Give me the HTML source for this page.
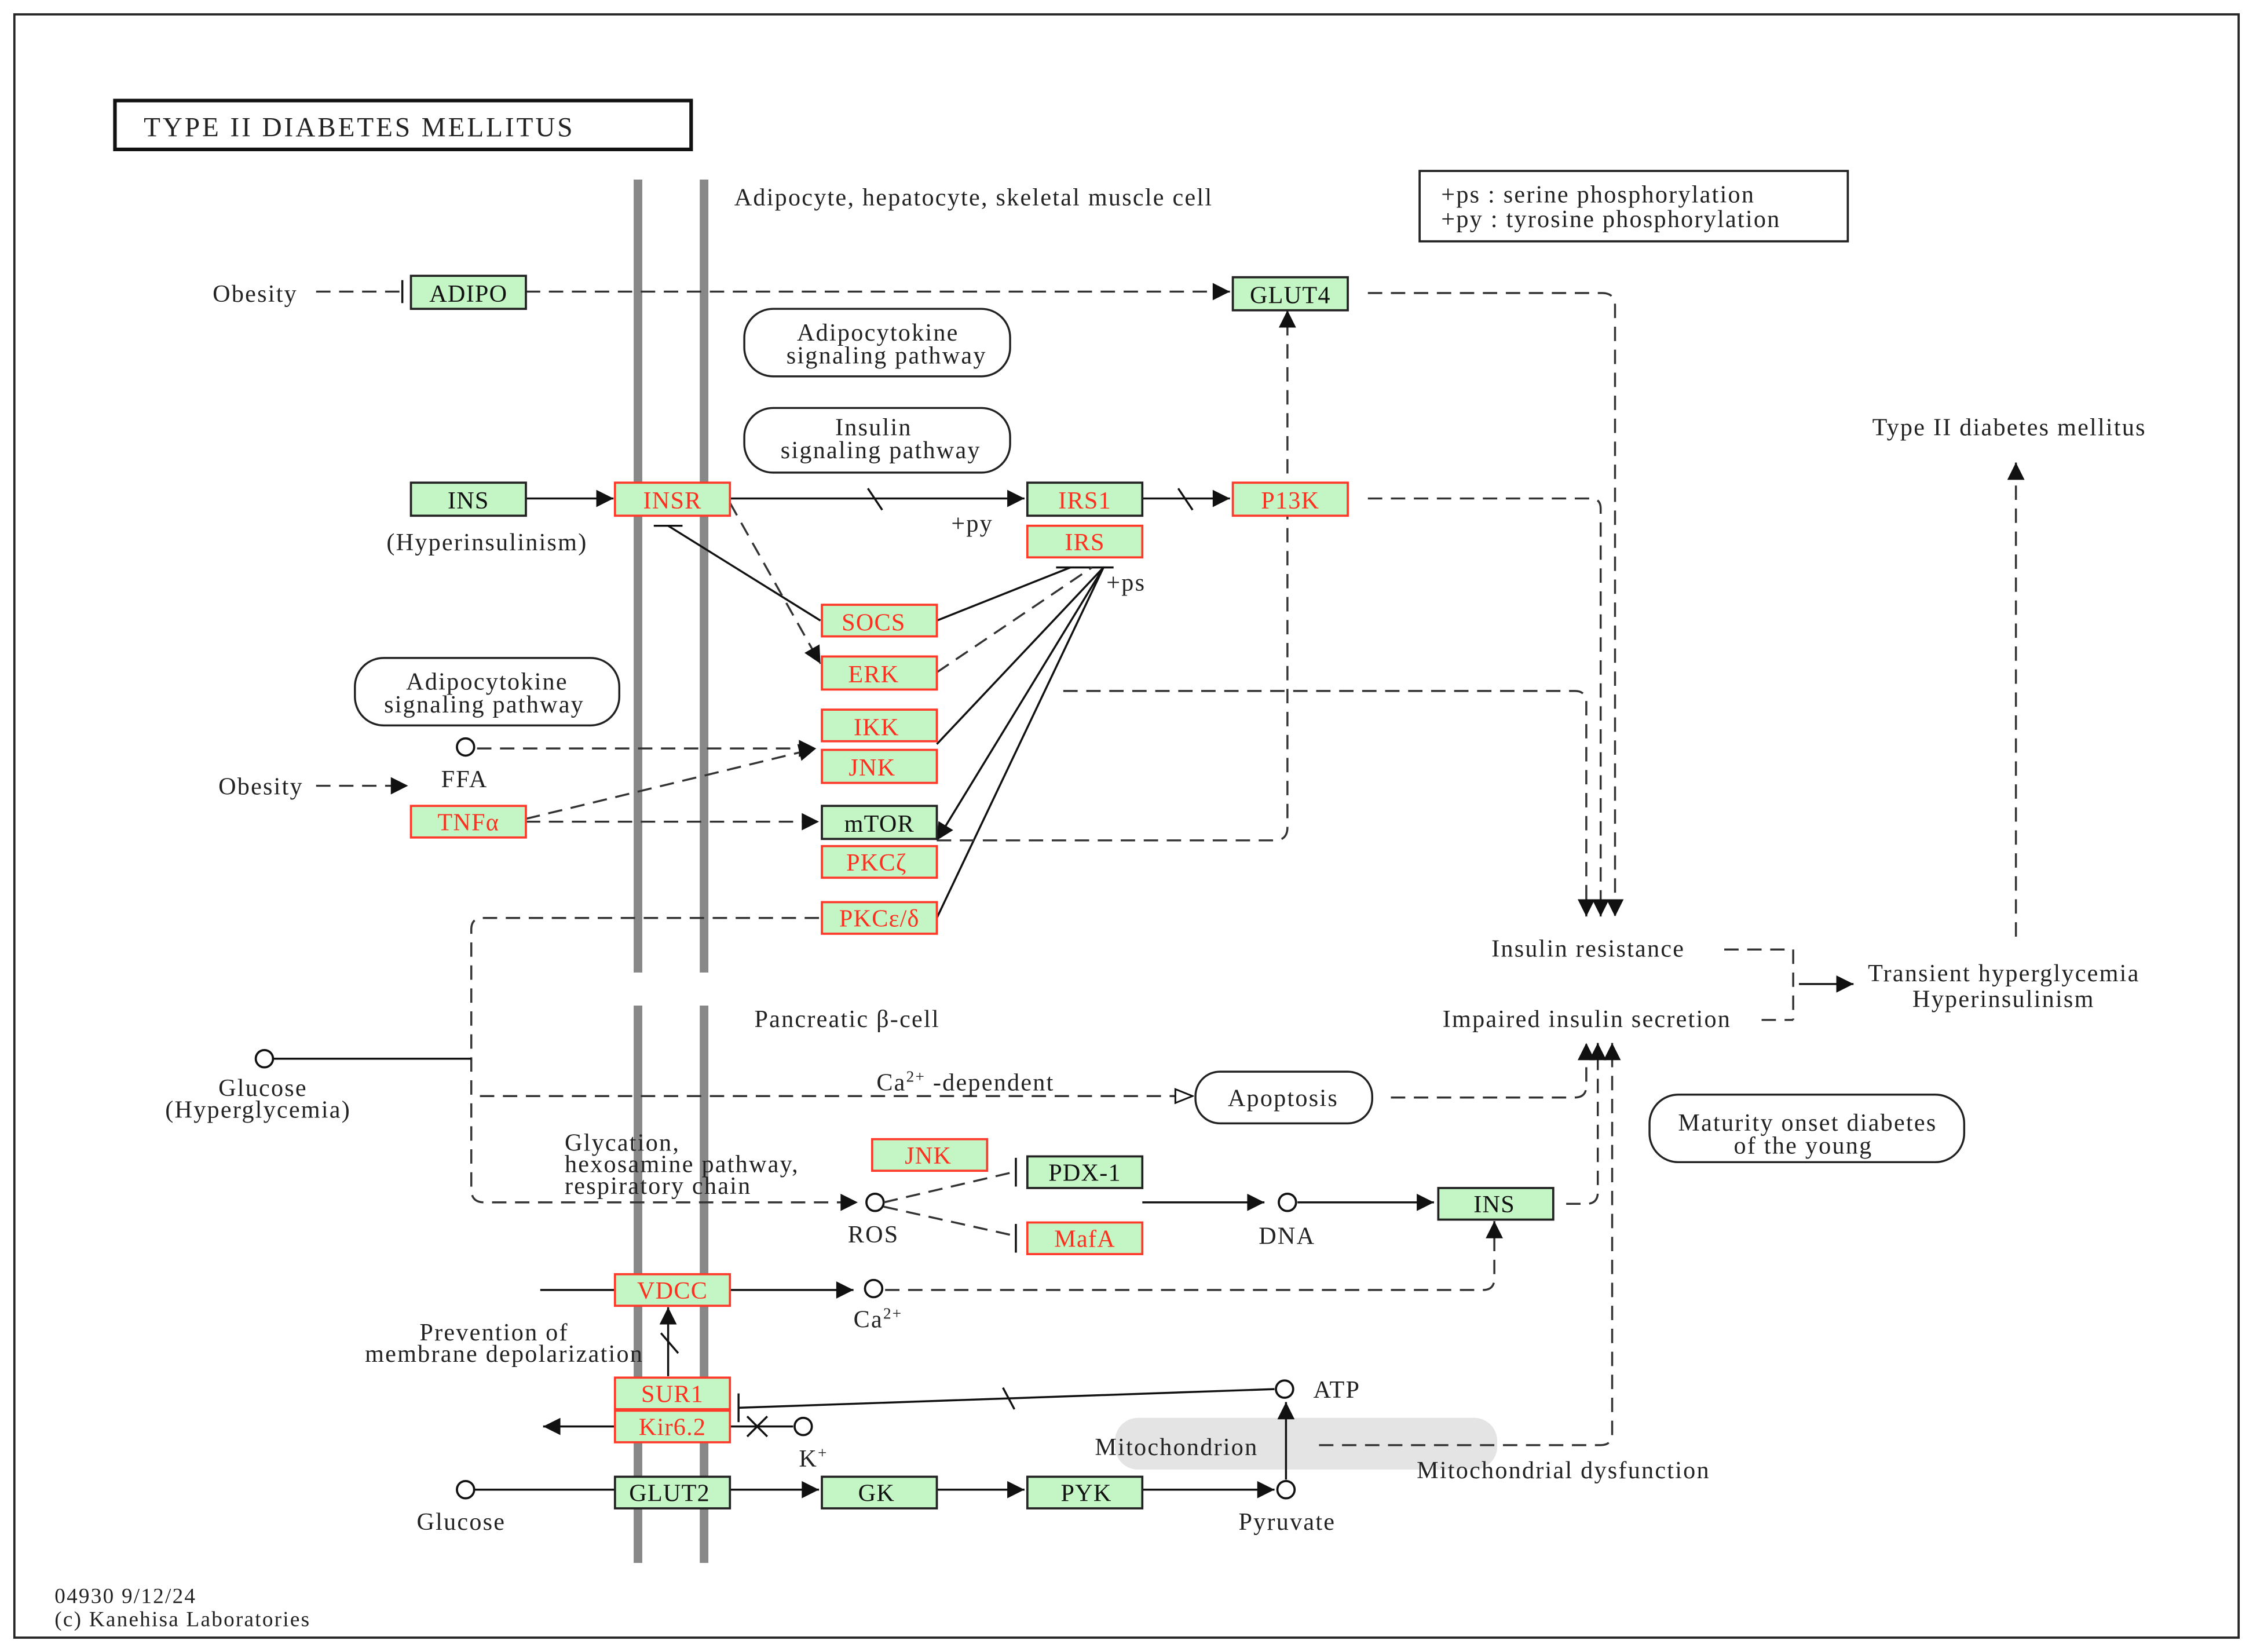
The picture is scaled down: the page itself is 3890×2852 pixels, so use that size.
<!DOCTYPE html>
<html><head><meta charset="utf-8"><style>
html,body{margin:0;padding:0;background:#fff;}
svg{display:block;}
text{font-family:"Liberation Serif",serif;font-size:17px;fill:#222;letter-spacing:0.9px;}
.g{fill:#c4f5c4;stroke:#222;stroke-width:1.5;}
.r{fill:#c4f5c4;stroke:#ff3a2a;stroke-width:1.5;}
.rt{fill:#ff3020;text-anchor:middle;font-size:17px;letter-spacing:0.5px;}
.bt{fill:#111;text-anchor:middle;font-size:17px;letter-spacing:0.5px;}
.l{stroke:#111;stroke-width:1.4;fill:none;}
.d{stroke:#333;stroke-width:1.4;fill:none;stroke-dasharray:10,6;}
.c{text-anchor:middle;}
</style></head><body>
<svg width="3890" height="2852" viewBox="0 0 1568 1150" preserveAspectRatio="none" xmlns="http://www.w3.org/2000/svg">
<defs>
<marker id="A" viewBox="0 0 10 10" refX="10" refY="5" markerWidth="16" markerHeight="12" orient="auto" markerUnits="userSpaceOnUse"><path d="M0,0L10,5L0,10z" fill="#111"/></marker>
<marker id="o" viewBox="0 0 10 10" refX="10" refY="5" markerWidth="14" markerHeight="12" orient="auto" markerUnits="userSpaceOnUse"><path d="M0,1L10,5L0,9z" fill="#fff" stroke="#111"/></marker>
</defs>
<rect x="10" y="10" width="1548" height="1130" fill="none" stroke="#222" stroke-width="1.5"/>
<rect x="80" y="70" width="401" height="34" fill="none" stroke="#111" stroke-width="2.5"/>
<text x="100" y="95" style="font-size:19px;letter-spacing:1.6px">TYPE  II  DIABETES  MELLITUS</text>
<g fill="#888"><rect x="441" y="125" width="6" height="552"/><rect x="487" y="125" width="6" height="552"/><rect x="441" y="700" width="6" height="388"/><rect x="487" y="700" width="6" height="388"/></g>
<rect x="776" y="987" width="266" height="36" rx="16" fill="#e4e4e4"/>
<text x="511" y="143">Adipocyte, hepatocyte, skeletal muscle cell</text>
<text x="525" y="715">Pancreatic β-cell</text>
<rect x="988" y="119" width="298" height="49" fill="none" stroke="#222" stroke-width="1.5"/>
<text x="1003" y="141">+ps : serine phosphorylation</text>
<text x="1003" y="158">+py : tyrosine phosphorylation</text>
<g fill="none" stroke="#222" stroke-width="1.4">
<rect x="518" y="215" width="185" height="47" rx="20"/>
<rect x="518" y="284" width="185" height="45" rx="20"/>
<rect x="247" y="458" width="184" height="47" rx="20"/>
<rect x="832" y="746" width="123" height="36" rx="17"/>
<rect x="1148" y="762" width="219" height="47" rx="20"/>
</g>
<text x="611" y="237" class="c">Adipocytokine</text><text x="617" y="253" class="c">signaling pathway</text>
<text x="608" y="303" class="c">Insulin</text><text x="613" y="319" class="c">signaling pathway</text>
<text x="339" y="480" class="c">Adipocytokine</text><text x="337" y="496" class="c">signaling pathway</text>
<text x="893" y="770" class="c">Apoptosis</text>
<text x="1258" y="787" class="c">Maturity onset diabetes</text><text x="1255" y="803" class="c">of the young</text>
<text x="148" y="210">Obesity</text>
<text x="152" y="553">Obesity</text>
<text x="269" y="383">(Hyperinsulinism)</text>
<text x="307" y="548">FFA</text>
<text x="152" y="763">Glucose</text><text x="115" y="778">(Hyperglycemia)</text>
<text x="393" y="801">Glycation,</text><text x="393" y="816">hexosamine pathway,</text><text x="393" y="831">respiratory chain</text>
<text x="590" y="865">ROS</text>
<text x="876" y="866">DNA</text>
<text x="594" y="924">Ca<tspan dy="-6" style="font-size:11px">2+</tspan></text>
<text x="292" y="933">Prevention of</text><text x="254" y="948">membrane depolarization</text>
<text x="556" y="1021">K<tspan dy="-6" style="font-size:11px">+</tspan></text>
<text x="914" y="973">ATP</text>
<text x="762" y="1013">Mitochondrion</text>
<text x="986" y="1029">Mitochondrial dysfunction</text>
<text x="290" y="1065">Glucose</text>
<text x="862" y="1065">Pyruvate</text>
<text x="610" y="759">Ca<tspan dy="-6" style="font-size:11px">2+</tspan><tspan dy="6"> -dependent</tspan></text>
<text x="662" y="370">+py</text>
<text x="770" y="411">+ps</text>
<text x="1303" y="303">Type II diabetes mellitus</text>
<text x="1038" y="666">Insulin resistance</text>
<text x="1004" y="715">Impaired insulin secretion</text>
<text x="1300" y="683">Transient hyperglycemia</text>
<text x="1331" y="701">Hyperinsulinism</text>
<text x="38" y="1116" style="font-size:15px">04930 9/12/24</text>
<text x="38" y="1132" style="font-size:15px">(c) Kanehisa Laboratories</text>
<g fill="#fff" stroke="#111" stroke-width="1.5">
<circle cx="324" cy="520" r="6"/><circle cx="184" cy="737" r="6"/><circle cx="609" cy="837" r="6"/><circle cx="896" cy="837" r="6"/><circle cx="608" cy="897" r="6"/><circle cx="894" cy="967" r="6"/><circle cx="559" cy="993" r="6"/><circle cx="324" cy="1037" r="6"/><circle cx="895" cy="1037" r="6"/>
</g>
<line class="d" x1="220" y1="203" x2="278" y2="203"/><line class="l" x1="280" y1="195" x2="280" y2="211"/>
<line class="d" x1="366" y1="203" x2="856" y2="203" marker-end="url(#A)"/>
<line class="l" x1="366" y1="347" x2="427" y2="347" marker-end="url(#A)"/>
<line class="l" x1="508" y1="347" x2="713" y2="347" marker-end="url(#A)"/>
<line class="l" x1="604" y1="340" x2="614" y2="355"/>
<line class="l" x1="795" y1="347" x2="856" y2="347" marker-end="url(#A)"/>
<line class="l" x1="820" y1="340" x2="830" y2="355"/>
<line class="l" x1="455" y1="366" x2="475" y2="366"/><line class="l" x1="465" y1="366" x2="571" y2="432"/>
<line class="d" x1="508" y1="350" x2="571" y2="462" marker-end="url(#A)"/>
<line class="l" x1="735" y1="395" x2="775" y2="395"/>
<line class="l" x1="652" y1="432" x2="745" y2="395"/>
<line class="d" x1="652" y1="468" x2="760" y2="395"/>
<line class="l" x1="652" y1="518" x2="768" y2="395"/>
<line class="l" x1="768" y1="395" x2="652" y2="585" marker-end="url(#A)"/>
<line class="l" x1="652" y1="639" x2="768" y2="395"/>
<line class="d" x1="220" y1="547" x2="284" y2="547" marker-end="url(#A)"/>
<line class="d" x1="332" y1="521" x2="568" y2="521" marker-end="url(#A)"/>
<line class="d" x1="366" y1="570" x2="568" y2="521" marker-end="url(#A)"/>
<line class="d" x1="366" y1="572" x2="570" y2="572" marker-end="url(#A)"/>
<path class="d" d="M652,585 H887 Q896,585 896,576 V216" marker-end="url(#A)"/>
<path class="d" d="M952,204 H1115 Q1124,204 1124,213 V638" marker-end="url(#A)"/>
<path class="d" d="M952,347 H1107 Q1114,347 1114,354 V638" marker-end="url(#A)"/>
<path class="d" d="M740,481 H1096 Q1104,481 1104,489 V638" marker-end="url(#A)"/>
<path class="d" d="M570,639 H336 Q328,639 328,647 V828 Q328,837 337,837 H597" marker-end="url(#A)"/>
<path class="l" d="M190,737 H328"/>
<line class="d" x1="334" y1="763" x2="830" y2="763" marker-end="url(#o)"/>
<path class="d" d="M968,764 H1096 Q1104,764 1104,756 V726" marker-end="url(#A)"/>
<path class="d" d="M1090,838 H1104 Q1112,838 1112,830 V726" marker-end="url(#A)"/>
<path class="d" d="M918,1006 H1114 Q1122,1006 1122,998 V726" marker-end="url(#A)"/>
<line class="d" x1="615" y1="837" x2="705" y2="816"/><line class="l" x1="707" y1="806" x2="707" y2="826"/>
<line class="d" x1="615" y1="840" x2="705" y2="860"/><line class="l" x1="707" y1="852" x2="707" y2="872"/>
<line class="l" x1="795" y1="837" x2="880" y2="837" marker-end="url(#A)"/>
<line class="l" x1="903" y1="837" x2="998" y2="837" marker-end="url(#A)"/>
<line class="l" x1="376" y1="898" x2="428" y2="898"/>
<line class="l" x1="508" y1="898" x2="594" y2="898" marker-end="url(#A)"/>
<path class="d" d="M616,898 H1032 Q1040,898 1040,890 V850" marker-end="url(#A)"/>
<line class="l" x1="465" y1="958" x2="465" y2="910" marker-end="url(#A)"/>
<line class="l" x1="460" y1="928" x2="472" y2="942"/>
<line class="l" x1="887" y1="967" x2="514" y2="980"/><line class="l" x1="514" y1="970" x2="514" y2="990"/>
<line class="l" x1="698" y1="966" x2="706" y2="981"/>
<line class="l" x1="552" y1="993" x2="378" y2="993" marker-end="url(#A)"/>
<line class="l" x1="520" y1="986" x2="534" y2="1000"/><line class="l" x1="520" y1="1000" x2="534" y2="986"/>
<line class="l" x1="330" y1="1037" x2="428" y2="1037"/>
<line class="l" x1="508" y1="1037" x2="570" y2="1037" marker-end="url(#A)"/>
<line class="l" x1="652" y1="1037" x2="713" y2="1037" marker-end="url(#A)"/>
<line class="l" x1="795" y1="1037" x2="887" y2="1037" marker-end="url(#A)"/>
<line class="l" x1="895" y1="1030" x2="895" y2="976" marker-end="url(#A)"/>
<line class="d" x1="1200" y1="661" x2="1248" y2="661"/><line class="d" x1="1226" y1="710" x2="1248" y2="710"/>
<line class="d" x1="1248" y1="661" x2="1248" y2="710"/>
<line class="l" x1="1252" y1="685" x2="1290" y2="685" marker-end="url(#A)"/>
<line class="d" x1="1403" y1="652" x2="1403" y2="322" marker-end="url(#A)"/>
<g>
<rect class="g" x="286" y="192" width="80" height="23"/><text class="bt" x="326" y="210">ADIPO</text>
<rect class="g" x="858" y="193" width="80" height="23"/><text class="bt" x="898" y="211">GLUT4</text>
<rect class="g" x="286" y="336" width="80" height="23"/><text class="bt" x="326" y="354">INS</text>
<rect class="r" x="428" y="336" width="80" height="23"/><text class="rt" x="468" y="354">INSR</text>
<rect class="g" x="715" y="336" width="80" height="23"/><text class="rt" x="755" y="354">IRS1</text>
<rect class="r" x="715" y="366" width="80" height="22"/><text class="rt" x="755" y="383">IRS</text>
<rect class="r" x="858" y="336" width="80" height="23"/><text class="rt" x="898" y="354">P13K</text>
<rect class="r" x="572" y="421" width="80" height="22"/><text class="rt" x="608" y="439">SOCS</text>
<rect class="r" x="572" y="457" width="80" height="23"/><text class="rt" x="608" y="475">ERK</text>
<rect class="r" x="572" y="494" width="80" height="22"/><text class="rt" x="610" y="512">IKK</text>
<rect class="r" x="572" y="522" width="80" height="23"/><text class="rt" x="607" y="540">JNK</text>
<rect class="g" x="572" y="561" width="80" height="23"/><text class="bt" x="612" y="579">mTOR</text>
<rect class="r" x="572" y="589" width="80" height="22"/><text class="rt" x="610" y="606">PKCζ</text>
<rect class="r" x="572" y="628" width="80" height="22"/><text class="rt" x="612" y="645">PKCε/δ</text>
<rect class="r" x="286" y="561" width="80" height="22"/><text class="rt" x="326" y="578">TNFα</text>
<rect class="r" x="607" y="793" width="80" height="22"/><text class="rt" x="646" y="810">JNK</text>
<rect class="g" x="715" y="805" width="80" height="22"/><text class="bt" x="755" y="822">PDX-1</text>
<rect class="r" x="715" y="851" width="80" height="22"/><text class="rt" x="755" y="868">MafA</text>
<rect class="g" x="1001" y="827" width="80" height="22"/><text class="bt" x="1040" y="844">INS</text>
<rect class="r" x="428" y="887" width="80" height="22"/><text class="rt" x="468" y="904">VDCC</text>
<rect class="r" x="428" y="959" width="80" height="22"/><text class="rt" x="468" y="976">SUR1</text>
<rect class="r" x="428" y="982" width="80" height="22"/><text class="rt" x="468" y="999">Kir6.2</text>
<rect class="g" x="428" y="1028" width="80" height="22"/><text class="bt" x="466" y="1045">GLUT2</text>
<rect class="g" x="572" y="1028" width="80" height="22"/><text class="bt" x="610" y="1045">GK</text>
<rect class="g" x="715" y="1028" width="80" height="22"/><text class="bt" x="756" y="1045">PYK</text>
</g>
</svg>
</body></html>
